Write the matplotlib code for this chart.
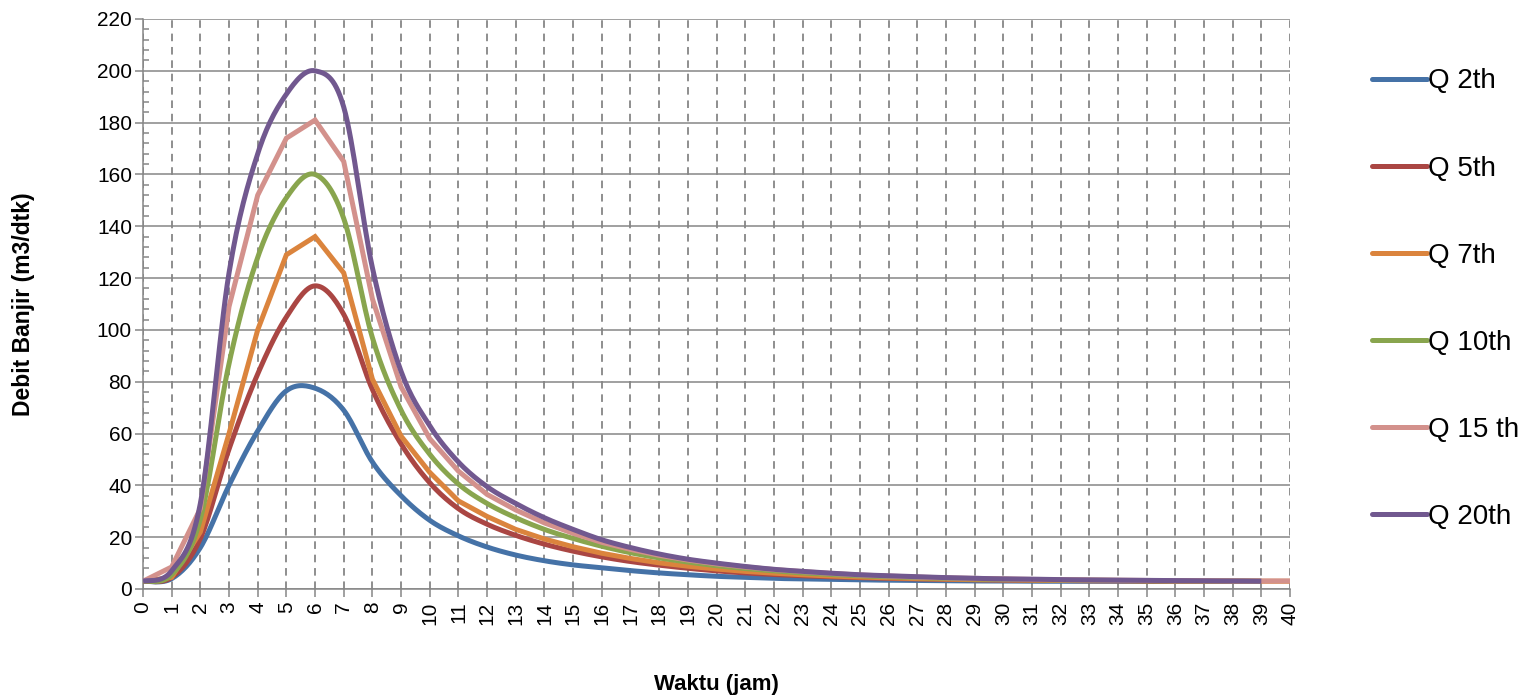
import matplotlib
matplotlib.use('Agg')
import matplotlib.pyplot as plt
import numpy as np

# waktu (jam)
jam = list(range(0, 41))

q2 = [3, 4, 16, 40, 61, 76.5, 77.5, 69, 49, 36, 26.5, 20.5, 16.2, 13.1, 10.9, 9.3, 8.2, 7.1, 6.2, 5.5,
      4.9, 4.5, 4.1, 3.9, 3.7, 3.5, 3.4, 3.3, 3.2, 3.1, 3.1, 3.0, 3.0, 3.0, 3.0, 2.9, 2.9, 2.9, 2.9, 2.9]
q5 = [3, 4.5, 19.5, 54, 83, 105, 117, 106, 77, 56, 41, 31, 25, 20.7, 17.3, 14.6, 12.4, 10.6, 9.2, 8.0,
      7.0, 6.2, 5.6, 5.1, 4.7, 4.4, 4.1, 3.9, 3.7, 3.6, 3.5, 3.4, 3.3, 3.2, 3.2, 3.1, 3.1, 3.0, 3.0, 3.0]
q7 = [3, 4.5, 22, 60, 100, 129, 136, 122, 81, 59, 45, 34, 28, 23, 19.3, 16.3, 13.8, 11.8, 10.1, 8.8,
      7.7, 6.8, 6.1, 5.5, 5.0, 4.6, 4.3, 4.0, 3.8, 3.6, 3.5, 3.4, 3.3, 3.2, 3.2, 3.1, 3.1, 3.0, 3.0, 3.0, 3.0]
q10 = [3, 5.5, 27, 87, 128, 151, 160, 143, 97, 69, 52, 40.5, 33, 27.5, 23, 19.5, 16.5, 14, 12, 10.4,
       9.0, 7.9, 7.0, 6.2, 5.6, 5.1, 4.7, 4.4, 4.1, 3.9, 3.7, 3.6, 3.5, 3.4, 3.3, 3.2, 3.2, 3.1, 3.1, 3.0]
q15 = [3, 8.5, 31, 109, 152, 174, 181, 165, 112, 78, 58, 45.5, 36.5, 30.5, 25.5, 21.5, 18, 15.3, 13, 11.2,
       9.7, 8.5, 7.5, 6.7, 6.0, 5.4, 5.0, 4.6, 4.3, 4.1, 3.9, 3.7, 3.6, 3.5, 3.4, 3.3, 3.2, 3.2, 3.1, 3.1, 3.1]
q20 = [3, 7, 33, 122, 168, 191, 200, 186, 124, 84, 63, 49, 39.5, 33, 27.5, 23, 19, 16, 13.5, 11.5,
       10, 8.7, 7.6, 6.8, 6.1, 5.5, 5.1, 4.7, 4.4, 4.1, 3.9, 3.8, 3.6, 3.5, 3.4, 3.3, 3.2, 3.1, 3.1, 3.0]

seri = [('Q 2th', q2, '#4572A7', True),
        ('Q 5th', q5, '#AA4643', True),
        ('Q 7th', q7, '#DB843D', False),
        ('Q 10th', q10, '#89A54E', True),
        ('Q 15 th', q15, '#D3918C', False),
        ('Q 20th', q20, '#71588F', True)]

WARNA_GRID = '#868686'


def garisHalus(x, y, n=16):
    # kurva halus ala Excel (bezier dengan titik kontrol catmull-rom)
    x = np.asarray(x, dtype=float)
    y = np.asarray(y, dtype=float)
    xs, ys = [x[0]], [y[0]]
    t = np.linspace(0, 1, n + 1)[1:]
    for i in range(len(x) - 1):
        i0 = max(i - 1, 0)
        i3 = min(i + 2, len(x) - 1)
        for arr, out in ((x, xs), (y, ys)):
            p0, p1, p2, p3 = arr[i0], arr[i], arr[i + 1], arr[i3]
            c1 = p1 + (p2 - p0) / 6
            c2 = p2 - (p3 - p1) / 6
            b = (1 - t) ** 3 * p1 + 3 * (1 - t) ** 2 * t * c1 + 3 * (1 - t) * t ** 2 * c2 + t ** 3 * p2
            out.extend(b)
    return np.array(xs), np.array(ys)


plt.rcParams['font.family'] = ['Liberation Sans', 'DejaVu Sans']

fig = plt.figure(figsize=(15.29, 6.99), dpi=100)
ax = fig.add_axes([143 / 1529, 1 - 589 / 699, (1290 - 143) / 1529, (589 - 19) / 699])

for nama, nilai, warna, halus in seri:
    x = jam[:len(nilai)]
    if halus:
        xs, ys = garisHalus(x, nilai)
    else:
        xs, ys = x, nilai
    ax.plot(xs, ys, color=warna, linewidth=3.6, label=nama, solid_capstyle='butt', solid_joinstyle='miter', zorder=3)

ax.set_xlim(0, 40)
ax.set_ylim(0, 220)
ax.set_xticks(range(0, 41))
ax.set_yticks(range(0, 221, 20))
ax.set_yticks(range(0, 221, 4), minor=True)

ax.grid(axis='y', which='major', color=WARNA_GRID, linewidth=1.1, linestyle='-', zorder=1)
ax.grid(axis='x', which='major', color=WARNA_GRID, linewidth=1.3, linestyle=(0, (4.2, 3.2)), zorder=1)
ax.set_axisbelow(True)

for s in ['top', 'right']:
    ax.spines[s].set_visible(False)
for s in ['left', 'bottom']:
    ax.spines[s].set_color(WARNA_GRID)
    ax.spines[s].set_linewidth(1.1)

ax.tick_params(axis='both', which='major', direction='out', length=6, width=1.1, color=WARNA_GRID,
               labelsize=15, labelcolor='black')
ax.tick_params(axis='y', which='minor', direction='in', length=4, width=1.1, color=WARNA_GRID)
ax.tick_params(axis='y', which='major', pad=2)
ax.tick_params(axis='x', which='major', pad=3, labelrotation=90)

ax.set_xlabel('Waktu (jam)', fontsize=16, fontweight='bold')
ax.set_ylabel('Debit Banjir (m3/dtk)', fontsize=16.5, fontweight='bold')
ax.xaxis.set_label_coords(0.5, -(674 - 589) / 570)
ax.yaxis.set_label_coords(-(143 - 35) / 1147, 0.5)

leg = ax.legend(loc='center left', bbox_to_anchor=(0.897, 0.572), bbox_transform=fig.transFigure,
                frameon=False, fontsize=20, handlelength=2.0, handletextpad=0.05, labelspacing=2.2,
                borderpad=0, borderaxespad=0)
for garis in leg.get_lines():
    garis.set_linewidth(3.6)
    garis.set_solid_capstyle('round')

plt.savefig('out.png', dpi=100)
